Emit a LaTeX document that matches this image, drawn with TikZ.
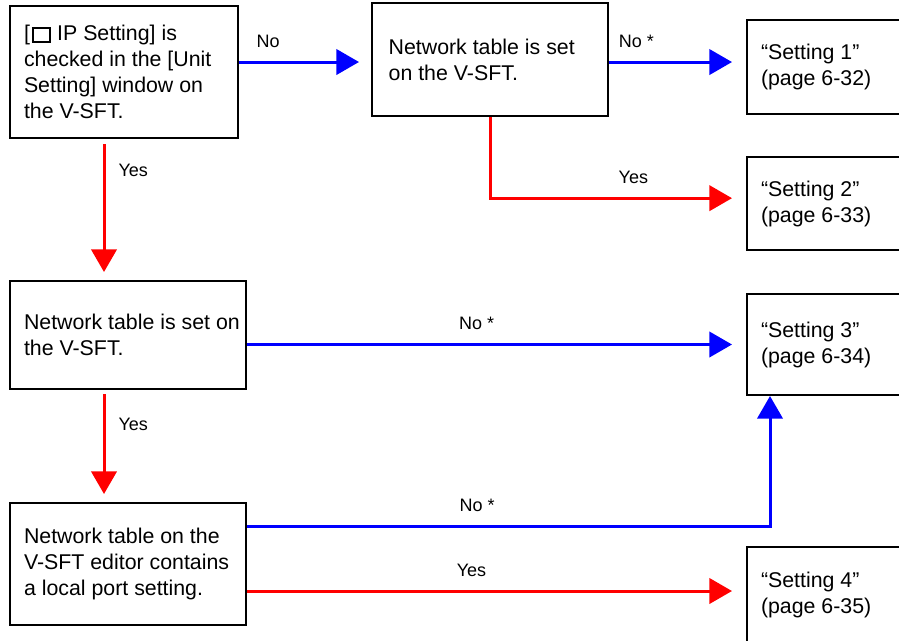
\documentclass[tikz,border=0pt]{standalone}
\usepackage{fontspec}
\setmainfont{Liberation Sans}
\usetikzlibrary{arrows.meta, calc}
\newcommand{\chkbox}{{\setlength{\fboxsep}{0pt}\setlength{\fboxrule}{1.5pt}\fbox{\rule{0pt}{9pt}\hspace{11.5pt}}}}
\tikzset{
  flowbox/.style={
    rectangle, draw=black, line width=1.5pt,
    inner sep=0pt, align=flush left, text width=#1,
    font=\fontsize{16pt}{19.5pt}\selectfont
  },
  flowline/.style={
    -{Triangle[length=17pt, width=19pt]}, line width=2.25pt,
    draw=#1, shorten >=10.5pt
  },
  lbl/.style={font=\fontsize{13.5pt}{15pt}\selectfont, inner sep=0pt},
}

\begin{document}
\begin{tikzpicture}[x=0.75pt, y=-0.75pt]
  \useasboundingbox (0,0) rectangle (899,640);
  \clip (0,0) rectangle (899,640);

  % decision boxes
  \node[flowbox=150pt, minimum width=171pt, minimum height=99pt] (ipset) at (124,72)
       {[\hspace{1.5pt}\chkbox{} IP Setting] is\\checked in the [Unit\\Setting] window on\\the V-SFT.};
  \node[flowbox=152pt, minimum width=177pt, minimum height=84.75pt] (nettab) at (490,59.5)
       {Network table is set\\on the V-SFT.};
  \node[flowbox=156pt, minimum width=177pt, minimum height=81pt] (netset) at (128,335)
       {\makebox[156pt][l]{Network table is set on}\\the V-SFT.};
  \node[flowbox=156pt, minimum width=177pt, minimum height=91.5pt] (portset) at (128,564)
       {Network table on the\\V-SFT editor contains\\a local port setting.};

  % result boxes
  \node[flowbox=114pt, minimum width=135pt, minimum height=70.5pt] (set1) at (837,67)
       {“Setting 1”\\(page 6-32)};
  \node[flowbox=114pt, minimum width=135pt, minimum height=69.75pt] (set2) at (837,203.5)
       {“Setting 2”\\(page 6-33)};
  \node[flowbox=114pt, minimum width=135pt, minimum height=75.75pt] (set3) at (837,344.5)
       {“Setting 3”\\(page 6-34)};
  \node[flowbox=114pt, minimum width=135pt, minimum height=72pt] (set4) at (837,595)
       {“Setting 4”\\(page 6-35)};

  % connectors
  \draw[flowline=blue, shorten >=9pt] ([yshift=7.5pt]ipset.east) -- ([yshift=7.5pt]ipset.east -| nettab.west)
       node[lbl, pos=0.22, above=9.75pt] {No};
  \draw[flowline=blue] ([yshift=-1.9pt]nettab.east) -- ([yshift=-1.9pt]nettab.east -| set1.west)
       node[lbl, pos=0.2, above=9.75pt] {No *};
  \draw[flowline=red] (nettab.south) |- ([yshift=4pt]set2.west)
       node[lbl, pos=0.78, above=9.75pt] {Yes};

  \draw[flowline=red, shorten <=3.75pt, shorten >=6pt] ([xshift=-15pt]ipset.south) -- ([xshift=-15pt]ipset.south |- netset.north)
       node[lbl, pos=0.22, right=9.75pt] {Yes};
  \draw[flowline=blue] (set3.west -| netset.east) -- (set3.west)
       node[lbl, pos=0.46, above=9.75pt] {No *};
  \draw[flowline=red, shorten <=3pt, shorten >=6pt] ([xshift=-18pt]netset.south) -- ([xshift=-18pt]netset.south |- portset.north)
       node[lbl, pos=0.31, right=9.75pt] {Yes};

  \draw[flowline=blue, shorten >=0pt] ([yshift=-18pt]portset.north east) -| ([xshift=18pt]set3.south west)
       node[lbl, pos=0.22, above=9.75pt] {No *};
  \draw[flowline=red] ([yshift=-20.25pt]portset.east) -- ([yshift=-20.25pt]portset.east -| set4.west)
       node[lbl, pos=0.45, above=9.75pt] {Yes};
\end{tikzpicture}
\end{document}
